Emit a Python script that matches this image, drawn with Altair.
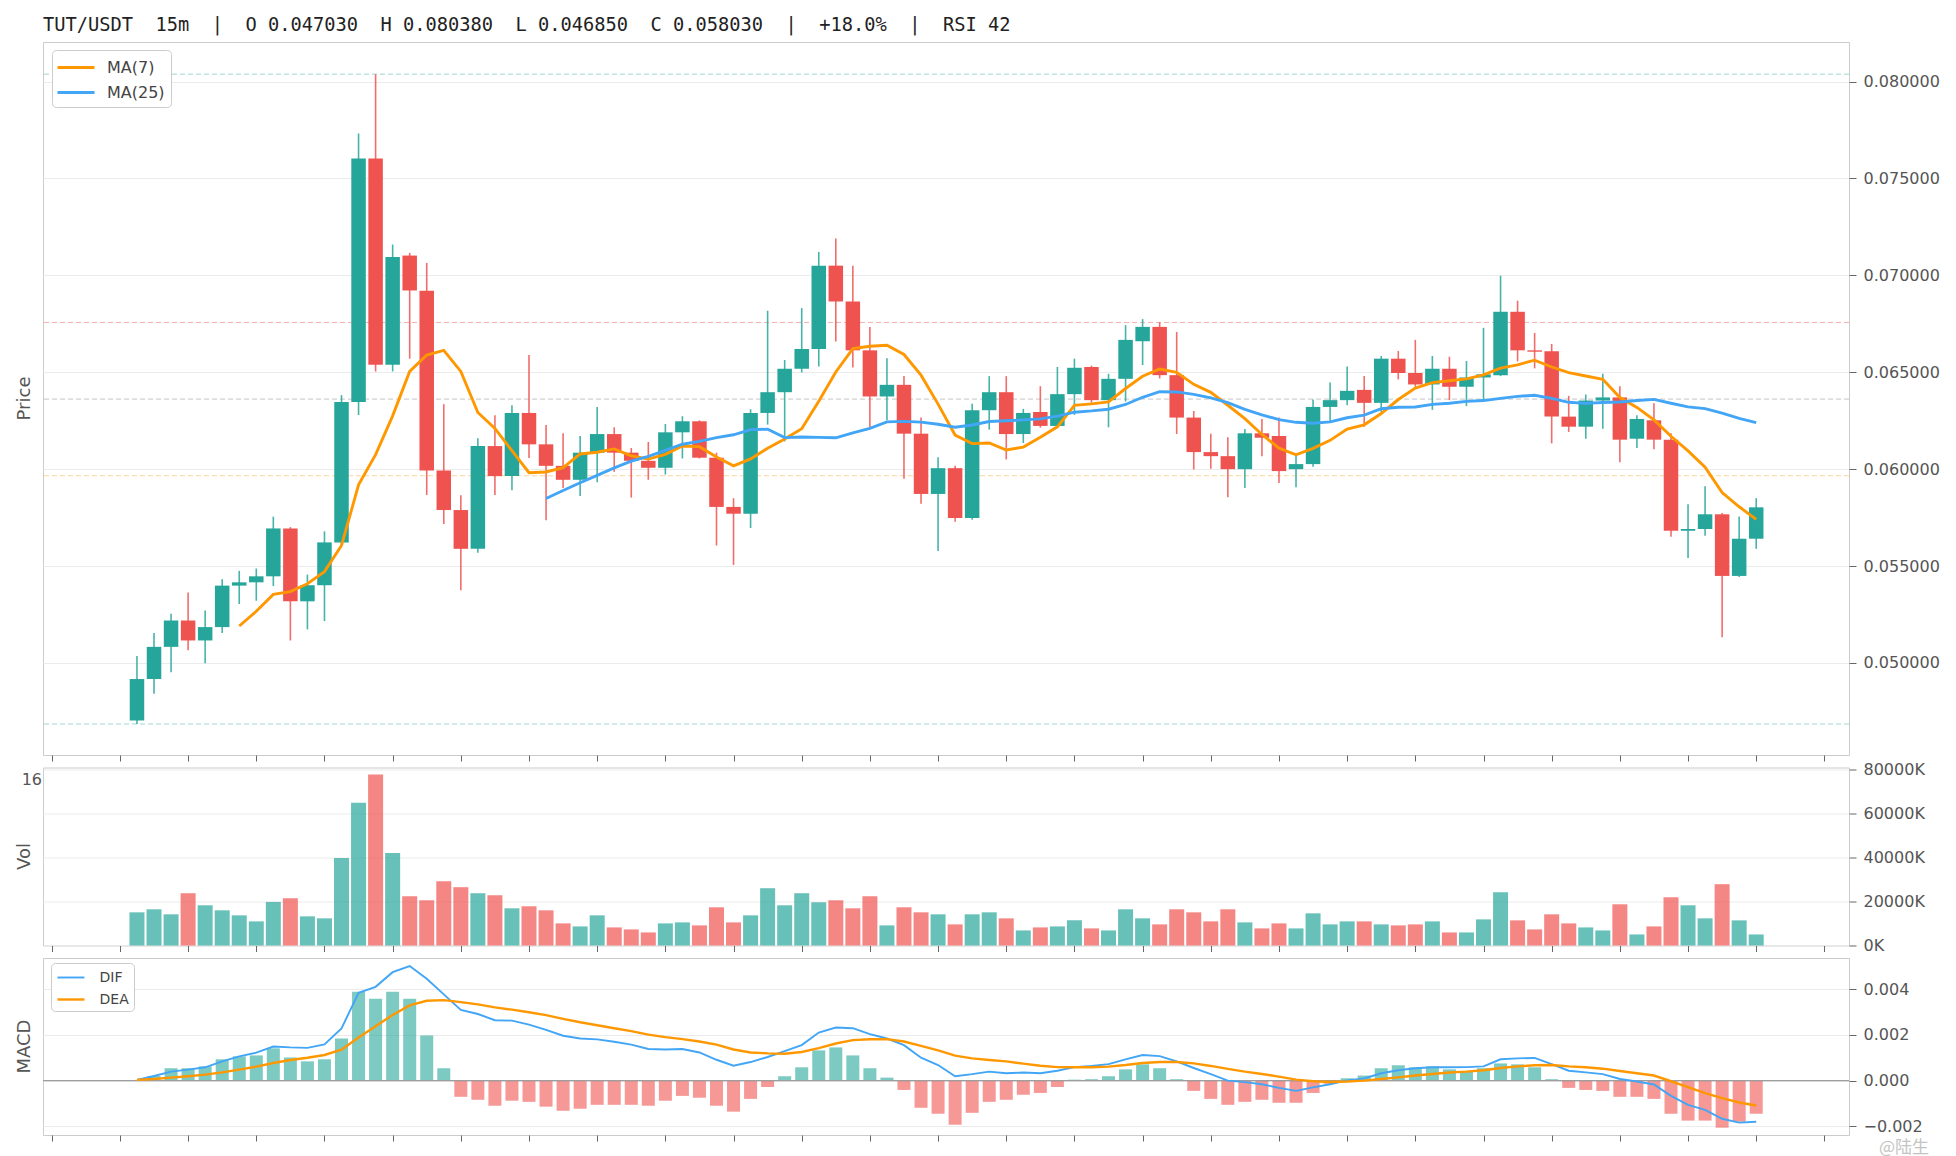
import altair as alt
import numpy as np
import pandas as pd

# ---------------- values ----------------
open_prices = [0.04703, 0.04917, 0.05083, 0.05219, 0.05116, 0.05185, 0.05399, 0.05416, 0.05447, 0.05694,
               0.05318, 0.05401, 0.05622, 0.06347, 0.07603, 0.06539, 0.07102, 0.06920, 0.05993, 0.05789,
               0.05589, 0.06119, 0.05964, 0.06290, 0.06128, 0.06017, 0.05945, 0.06085, 0.06181, 0.06085,
               0.06043, 0.06007, 0.06190, 0.06247, 0.06059, 0.05805, 0.05770, 0.06290, 0.06397, 0.06518,
               0.06620, 0.07050, 0.06865, 0.06613, 0.06375, 0.06435, 0.06183, 0.05872, 0.06005, 0.05748,
               0.06304, 0.06397, 0.06181, 0.06295, 0.06223, 0.06387, 0.06527, 0.06356, 0.06466, 0.06660,
               0.06734, 0.06485, 0.06266, 0.06088, 0.06067, 0.06000, 0.06185, 0.06171, 0.06000, 0.06026,
               0.06321, 0.06356, 0.06409, 0.06342, 0.06570, 0.06496, 0.06437, 0.06518, 0.06425, 0.06473,
               0.06485, 0.06812, 0.06613, 0.06608, 0.06271, 0.06219, 0.06354, 0.06370, 0.06157, 0.06252,
               0.06152, 0.05682, 0.05691, 0.05767, 0.05449, 0.05641]
high_prices = [0.05036, 0.05154, 0.05254, 0.05363, 0.05271, 0.05432, 0.05475, 0.05487, 0.05755, 0.05701,
               0.05456, 0.05679, 0.06382, 0.07732, 0.08038, 0.07159, 0.07116, 0.07064, 0.06335, 0.05865,
               0.06159, 0.06278, 0.06330, 0.06589, 0.06228, 0.06185, 0.06171, 0.06321, 0.06216, 0.06109,
               0.06140, 0.06233, 0.06273, 0.06252, 0.06085, 0.05850, 0.06309, 0.06817, 0.06563, 0.06831,
               0.07121, 0.07190, 0.07050, 0.06734, 0.06572, 0.06480, 0.06266, 0.06062, 0.06017, 0.06337,
               0.06480, 0.06480, 0.06311, 0.06428, 0.06527, 0.06570, 0.06534, 0.06492, 0.06743, 0.06774,
               0.06758, 0.06708, 0.06300, 0.06183, 0.06164, 0.06207, 0.06259, 0.06266, 0.06076, 0.06359,
               0.06447, 0.06530, 0.06480, 0.06584, 0.06610, 0.06667, 0.06584, 0.06580, 0.06558, 0.06729,
               0.06998, 0.06869, 0.06703, 0.06646, 0.06378, 0.06385, 0.06492, 0.06428, 0.06278, 0.06340,
               0.06185, 0.05819, 0.05912, 0.05774, 0.05755, 0.05850]
low_prices = [0.04685, 0.04841, 0.04952, 0.05066, 0.04998, 0.05154, 0.05304, 0.05321, 0.05397, 0.05116,
              0.05173, 0.05216, 0.05610, 0.06280, 0.06504, 0.06504, 0.06570, 0.05867, 0.05717, 0.05375,
              0.05568, 0.05867, 0.05891, 0.06057, 0.05736, 0.05903, 0.05862, 0.05933, 0.05986, 0.05853,
              0.05945, 0.05972, 0.06055, 0.06055, 0.05606, 0.05506, 0.05696, 0.06230, 0.06143, 0.06499,
              0.06530, 0.06658, 0.06525, 0.06218, 0.06252, 0.05950, 0.05822, 0.05577, 0.05729, 0.05739,
              0.06204, 0.06050, 0.06135, 0.06214, 0.06220, 0.06280, 0.06342, 0.06216, 0.06349, 0.06537,
              0.06468, 0.06181, 0.05998, 0.06002, 0.05855, 0.05903, 0.06067, 0.05929, 0.05907, 0.06012,
              0.06247, 0.06330, 0.06219, 0.06295, 0.06463, 0.06425, 0.06306, 0.06356, 0.06325, 0.06354,
              0.06480, 0.06556, 0.06520, 0.06133, 0.06192, 0.06157, 0.06209, 0.06036, 0.06109, 0.06102,
              0.05651, 0.05542, 0.05656, 0.05133, 0.05444, 0.05589]
close_prices = [0.04917, 0.05083, 0.05219, 0.05116, 0.05185, 0.05399, 0.05416, 0.05447, 0.05694, 0.05318,
                0.05401, 0.05622, 0.06347, 0.07603, 0.06539, 0.07095, 0.06922, 0.05993, 0.05789, 0.05589,
                0.06119, 0.05964, 0.06290, 0.06128, 0.06017, 0.05945, 0.06085, 0.06181, 0.06085, 0.06043,
                0.06007, 0.06190, 0.06247, 0.06059, 0.05805, 0.05770, 0.06290, 0.06397, 0.06518, 0.06620,
                0.07050, 0.06865, 0.06613, 0.06375, 0.06435, 0.06183, 0.05872, 0.06005, 0.05748, 0.06304,
                0.06397, 0.06181, 0.06290, 0.06223, 0.06387, 0.06523, 0.06356, 0.06466, 0.06667, 0.06734,
                0.06485, 0.06266, 0.06088, 0.06067, 0.06000, 0.06185, 0.06162, 0.05990, 0.06026, 0.06321,
                0.06356, 0.06404, 0.06342, 0.06570, 0.06496, 0.06437, 0.06518, 0.06425, 0.06473, 0.06489,
                0.06812, 0.06613, 0.06606, 0.06271, 0.06219, 0.06354, 0.06370, 0.06152, 0.06259, 0.06152,
                0.05682, 0.05691, 0.05767, 0.05449, 0.05641, 0.05803]
volume_k = [15060, 16430, 14150, 23730, 18250, 15970, 13690, 10950, 19770, 21450,
            13230, 12320, 39700, 64800, 77570, 41980, 22360, 20530, 29200, 26470,
            23730, 22810, 16880, 17800, 15970, 10040, 8670, 13690, 8210, 7300,
            5930, 10040, 10490, 9130, 17340, 10490, 13690, 26010, 18250, 23730,
            19620, 20530, 16880, 22360, 9130, 17340, 15060, 14150, 9580, 14150,
            15060, 12320, 6840, 8210, 8670, 11410, 7760, 6840, 16430, 12320,
            9580, 16430, 15060, 10950, 16430, 10490, 7760, 10040, 7760, 14600,
            9580, 10950, 10950, 9580, 9130, 9580, 10950, 5930, 5930, 11860,
            24180, 11410, 7300, 14150, 10040, 8210, 6840, 18710, 5020, 8670,
            21900, 18250, 12320, 27830, 11410, 5020]
dif_values = [0.00003, 0.00020, 0.00039, 0.00048, 0.00058, 0.00084, 0.00106, 0.00122, 0.00149, 0.00145,
              0.00143, 0.00158, 0.00228, 0.00384, 0.00410, 0.00474, 0.00501, 0.00445, 0.00377, 0.00309,
              0.00291, 0.00264, 0.00262, 0.00245, 0.00222, 0.00196, 0.00184, 0.00180, 0.00170, 0.00157,
              0.00138, 0.00136, 0.00138, 0.00123, 0.00091, 0.00065, 0.00081, 0.00103, 0.00129, 0.00155,
              0.00210, 0.00232, 0.00229, 0.00203, 0.00184, 0.00155, 0.00100, 0.00068, 0.00019, 0.00028,
              0.00039, 0.00032, 0.00035, 0.00032, 0.00043, 0.00059, 0.00064, 0.00072, 0.00093, 0.00112,
              0.00107, 0.00084, 0.00055, 0.00028, 0.00000, -0.00007, -0.00016, -0.00032, -0.00045, -0.00030,
              -0.00016, 0.00001, 0.00009, 0.00032, 0.00045, 0.00054, 0.00058, 0.00058, 0.00059, 0.00062,
              0.00093, 0.00097, 0.00099, 0.00072, 0.00043, 0.00036, 0.00028, 0.00007, -0.00004, -0.00017,
              -0.00067, -0.00106, -0.00128, -0.00167, -0.00184, -0.00180]
dea_values = [0.00003, 0.00007, 0.00013, 0.00019, 0.00026, 0.00036, 0.00048, 0.00061, 0.00077, 0.00090,
              0.00100, 0.00112, 0.00135, 0.00188, 0.00238, 0.00287, 0.00329, 0.00349, 0.00352, 0.00343,
              0.00333, 0.00320, 0.00310, 0.00299, 0.00286, 0.00270, 0.00255, 0.00242, 0.00229, 0.00216,
              0.00201, 0.00190, 0.00181, 0.00171, 0.00157, 0.00136, 0.00123, 0.00119, 0.00117, 0.00125,
              0.00142, 0.00162, 0.00177, 0.00181, 0.00181, 0.00171, 0.00152, 0.00132, 0.00109, 0.00097,
              0.00090, 0.00084, 0.00074, 0.00065, 0.00059, 0.00058, 0.00058, 0.00061, 0.00068, 0.00077,
              0.00081, 0.00081, 0.00075, 0.00064, 0.00051, 0.00039, 0.00029, 0.00017, 0.00004, -0.00003,
              -0.00006, -0.00004, 0.00000, 0.00007, 0.00014, 0.00022, 0.00029, 0.00035, 0.00039, 0.00045,
              0.00055, 0.00062, 0.00067, 0.00068, 0.00062, 0.00058, 0.00052, 0.00042, 0.00032, 0.00022,
              -0.00003, -0.00029, -0.00055, -0.00077, -0.00096, -0.00109]
hist_values = [0.00000, 0.00020, 0.00054, 0.00054, 0.00062, 0.00093, 0.00106, 0.00110, 0.00141, 0.00101,
               0.00084, 0.00093, 0.00184, 0.00388, 0.00358, 0.00388, 0.00358, 0.00197, 0.00054, -0.00071,
               -0.00084, -0.00110, -0.00088, -0.00093, -0.00114, -0.00132, -0.00123, -0.00106, -0.00106, -0.00106,
               -0.00110, -0.00088, -0.00067, -0.00075, -0.00110, -0.00136, -0.00080, -0.00028, 0.00019, 0.00058,
               0.00132, 0.00145, 0.00110, 0.00054, 0.00013, -0.00041, -0.00119, -0.00145, -0.00193, -0.00141,
               -0.00093, -0.00084, -0.00062, -0.00054, -0.00028, 0.00004, 0.00006, 0.00019, 0.00049, 0.00071,
               0.00054, 0.00006, -0.00045, -0.00080, -0.00106, -0.00093, -0.00084, -0.00097, -0.00097, -0.00054,
               -0.00014, 0.00010, 0.00022, 0.00054, 0.00067, 0.00058, 0.00062, 0.00049, 0.00041, 0.00054,
               0.00075, 0.00071, 0.00058, 0.00006, -0.00032, -0.00041, -0.00045, -0.00071, -0.00071, -0.00080,
               -0.00145, -0.00175, -0.00175, -0.00206, -0.00180, -0.00145]

x_ticks = list(range(-5, 100, 4))
price_ticks = [0.050, 0.055, 0.060, 0.065, 0.070, 0.075, 0.080]
vol_ticks = [0, 20000, 40000, 60000, 80000]
macd_ticks = [-0.002, 0.000, 0.002, 0.004]
level_values = [0.08038, 0.06757, 0.063615, 0.05966, 0.04685]
level_colors = ['#9fd6d0', '#f4b0ae', '#c4c4c4', '#fdd59a', '#9fd6d0']
title_text = "TUT/USDT  15m  |  O 0.047030  H 0.080380  L 0.046850  C 0.058030  |  +18.0%  |  RSI 42"
panel_titles = ['Price', 'Vol', 'MACD']

# ---------------- styling ----------------
UP, DOWN = '#26a69a', '#ef5350'
ORANGE, BLUE = '#ff9800', '#42a5f5'
W, H_PRICE, H_VOL, H_MACD = 1806, 713, 178, 177
LABEL_COLOR = '#555555'

df = pd.DataFrame({
    'i': list(range(len(close_prices))),
    'open': open_prices, 'high': high_prices, 'low': low_prices, 'close': close_prices,
    'vol': volume_k, 'dif': dif_values, 'dea': dea_values, 'hist': hist_values,
})
df['dir'] = np.where(df['close'] >= df['open'], 'up', 'down')
df['hdir'] = np.where(df['hist'] >= 0, 'up', 'down')
base = alt.Chart(df)

x_scale = alt.Scale(domain=[-5.22, 100.15], nice=False, zero=False)


def x_enc():
    return alt.X('i:Q', scale=x_scale,
                 axis=alt.Axis(values=x_ticks, labels=False, ticks=True, tickSize=6,
                               tickColor='#666666', domain=False, grid=False, title=None))


def right_axis(values, **kw):
    return alt.Axis(orient='right', values=values, title=None, grid=True, gridColor='#ebebeb',
                    domain=False, tickSize=7, tickColor='#666666', labelColor=LABEL_COLOR,
                    labelFont='DejaVu Sans', labelFontSize=16, labelPadding=7,
                    labelOverlap=False, **kw)


dir_fill = alt.Fill('dir:N', scale=alt.Scale(domain=['up', 'down'], range=[UP, DOWN]), legend=None)
dir_stroke = alt.Stroke('dir:N', scale=alt.Scale(domain=['up', 'down'], range=[UP, DOWN]), legend=None)


def side_title(label, h):
    return alt.Chart(pd.DataFrame({'t': [label]})).mark_text(
        angle=270, align='center', baseline='middle', fontSize=18, color=LABEL_COLOR,
        font='DejaVu Sans').encode(text='t:N', x=alt.value(-18), y=alt.value(h / 2))


# ---------------- price panel ----------------
price_y = alt.Scale(domain=[0.04525, 0.08204], nice=False, zero=False)
price_axis = right_axis(price_ticks, format='.6f')


def py(field):
    return alt.Y(f'{field}:Q', scale=price_y, axis=price_axis)


level_layers = [
    alt.Chart(pd.DataFrame({'level': [v]})).mark_rule(color=c, strokeDash=[5, 3], strokeWidth=1)
    .encode(y=py('level'))
    for v, c in zip(level_values, level_colors)
]

wicks = base.mark_rule(strokeWidth=1.6, strokeOpacity=0.85).encode(
    x=x_enc(), y=py('low'), y2='high:Q', stroke=dir_stroke)
bodies = base.mark_bar(size=14.5).encode(
    x=x_enc(), y=py('open'), y2='close:Q', fill=dir_fill)

ma_lines = base.transform_window(
    ma7='mean(close)', n7='count()', frame=[-6, 0], sort=[alt.SortField(field='i', order='ascending')]
).transform_window(
    ma25='mean(close)', n25='count()', frame=[-24, 0], sort=[alt.SortField(field='i', order='ascending')]
).transform_calculate(
    m7='datum.n7 >= 7 ? datum.ma7 : null',
    m25='datum.n25 >= 25 ? datum.ma25 : null'
).transform_fold(['m7', 'm25'], as_=['series', 'ma']).transform_filter(
    'isValid(datum.ma)'
).mark_line(strokeWidth=2.9).encode(
    x=x_enc(), y=py('ma'),
    color=alt.Color('series:N', scale=alt.Scale(domain=['m7', 'm25'], range=[ORANGE, BLUE]),
                    legend=alt.Legend(title=None, orient='none', legendX=9, legendY=8,
                                      direction='vertical', symbolType='M-1.2,0H2.5',
                                      symbolSize=400, symbolStrokeWidth=3,
                                      labelFontSize=16, labelFont='DejaVu Sans', labelColor='#444444',
                                      labelOffset=26, padding=6, rowPadding=5,
                                      fillColor='#ffffff', strokeColor='#cccccc', cornerRadius=4,
                                      labelExpr="datum.label == 'm7' ? 'MA(7)' : 'MA(25)'"))
)

title_layer = alt.Chart(pd.DataFrame({'t': [title_text.replace(' ', '\u00a0')]})).mark_text(
    align='left', baseline='middle', font='DejaVu Sans Mono', fontSize=18.7, color='#222222'
).encode(text='t:N', x=alt.value(0), y=alt.value(-17.5))

price_panel = alt.layer(*level_layers, wicks, bodies, ma_lines, title_layer,
                        side_title(panel_titles[0], H_PRICE)).properties(width=W, height=H_PRICE)

# ---------------- volume panel ----------------
vol_y = alt.Scale(domain=[0, 80800], nice=False)
vol_axis = right_axis(vol_ticks, labelExpr="format(datum.value, 'd') + 'K'")
vol_bars = base.mark_bar(size=15, fillOpacity=0.7).encode(
    x=x_enc(), y=alt.Y('vol:Q', scale=vol_y, axis=vol_axis), fill=dir_fill)
stray_label = alt.Chart(pd.DataFrame({'t': ['16']})).mark_text(
    align='right', baseline='middle', fontSize=16, color=LABEL_COLOR, font='DejaVu Sans'
).encode(text='t:N', x=alt.value(-1), y=alt.value(12))
vol_panel = alt.layer(vol_bars, side_title(panel_titles[1], H_VOL), stray_label).properties(
    width=W, height=H_VOL)

# ---------------- MACD panel ----------------
macd_y = alt.Scale(domain=[-0.00238, 0.00536], nice=False, zero=False)
macd_axis = right_axis(macd_ticks, format='.3f')
hist_fill = alt.Fill('hdir:N', scale=alt.Scale(domain=['up', 'down'], range=[UP, DOWN]), legend=None)
hist_bars = base.mark_bar(size=13, fillOpacity=0.6).encode(
    x=x_enc(), y=alt.Y('hist:Q', scale=macd_y, axis=macd_axis), y2=alt.datum(0), fill=hist_fill)
zero_rule = alt.Chart(pd.DataFrame({'zero': [0.0]})).mark_rule(color='#9e9e9e', strokeWidth=1.2).encode(
    y=alt.Y('zero:Q', scale=macd_y, axis=macd_axis))
macd_lines = base.transform_fold(['dif', 'dea'], as_=['series', 'v']).mark_line().encode(
    x=x_enc(), y=alt.Y('v:Q', scale=macd_y, axis=macd_axis),
    strokeWidth=alt.StrokeWidth('series:N', scale=alt.Scale(domain=['dif', 'dea'], range=[1.9, 2.4]),
                                legend=None),
    color=alt.Color('series:N', scale=alt.Scale(domain=['dif', 'dea'], range=[BLUE, ORANGE]),
                    legend=alt.Legend(title=None, orient='none', legendX=8, legendY=5,
                                      direction='vertical', symbolType='M-0.95,0H2.05',
                                      symbolSize=324, symbolStrokeWidth=2.5,
                                      labelFontSize=14, labelFont='DejaVu Sans', labelColor='#444444',
                                      labelOffset=23, padding=4.5, rowPadding=4.5,
                                      fillColor='#ffffff', strokeColor='#cccccc', cornerRadius=4,
                                      labelExpr="upper(datum.label)"))
)
watermark = alt.Chart(pd.DataFrame({'t': ['@陆生']})).mark_text(
    align='left', baseline='middle', fontSize=17, color='#c4c4c4', font='Noto Sans CJK SC'
).encode(text='t:N', x=alt.value(W + 30), y=alt.value(H_MACD + 13))
macd_panel = alt.layer(hist_bars, zero_rule, macd_lines, side_title(panel_titles[2], H_MACD),
                       watermark).properties(width=W, height=H_MACD)

chart = alt.vconcat(price_panel, vol_panel, macd_panel, spacing=12.5, bounds='flush').resolve_scale(
    x='independent', y='independent', color='independent', fill='independent', stroke='independent',
    strokeWidth='independent'
).resolve_legend(color='independent').properties(
    padding={'left': 7, 'top': 7, 'right': 5, 'bottom': 0}
).configure(font='DejaVu Sans').configure_view(stroke='#cccccc', strokeWidth=1)

chart.save("out.html", embed_options={"renderer": "svg", "actions": False})
